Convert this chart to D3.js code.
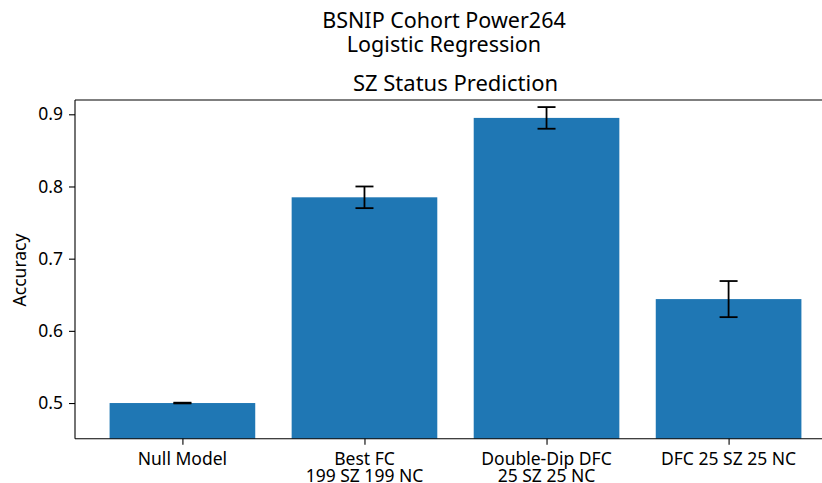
<!DOCTYPE html>
<html lang="en">
<head>
  <meta charset="UTF-8">
  <title>SZ Status Prediction</title>
  <script src="https://cdn.jsdelivr.net/npm/d3@7"></script>
</head>
<style>
  body { margin: 0; background: #fff; }
  svg { display: block; font-family: "Noto Sans", sans-serif; }
</style>
<body>
<svg width="822" height="483"></svg>
<script>
  // data
  const categories = ['Null Model', 'Best FC\n199 SZ 199 NC', 'Double-Dip DFC\n25 SZ 25 NC', 'DFC 25 SZ 25 NC'];
  const accuracy = [0.5, 0.785, 0.895, 0.644];
  const errors = [0.0005, 0.015, 0.015, 0.025];
  const yTicks = [0.5, 0.6, 0.7, 0.8, 0.9];

  const svg = d3.select('svg');
  const plotL = 75, plotR = 836, plotT = 100, plotB = 438.7;
  const barColor = '#1f77b4';
  const tickFont = '17.5px', titleFont = '22px', supFont = '21.5px';

  const x = d3.scaleLinear().domain([-0.59, categories.length - 1 + 0.59]).range([plotL, plotR]);
  const y = d3.scaleLinear().domain([0.4506, 0.9198]).range([plotB, plotT]);
  const barW = x(0.4) - x(-0.4);

  const data = categories.map((c, i) => ({c, i, v: accuracy[i], e: errors[i]}));

  // bars
  svg.append('g').selectAll('rect').data(data).enter().append('rect')
    .attr('x', d => x(d.i) - barW / 2)
    .attr('width', barW)
    .attr('y', d => y(d.v))
    .attr('height', d => plotB - y(d.v))
    .style('fill', barColor);

  // error bars
  const eg = svg.append('g').attr('stroke', '#000').attr('stroke-width', 1.8);
  data.forEach(d => {
    const cx = x(d.i);
    eg.append('line').attr('x1', cx).attr('x2', cx).attr('y1', y(d.v - d.e)).attr('y2', y(d.v + d.e));
    [d.v - d.e, d.v + d.e].forEach(v => {
      eg.append('line').attr('x1', cx - 9).attr('x2', cx + 9).attr('y1', y(v)).attr('y2', y(v));
    });
  });

  // spines
  const sp = svg.append('g').attr('stroke', '#000').attr('stroke-width', 1.1);
  sp.append('line').attr('x1', plotL).attr('x2', plotL).attr('y1', plotT).attr('y2', plotB);
  sp.append('line').attr('x1', plotL).attr('x2', plotR).attr('y1', plotB).attr('y2', plotB);
  sp.append('line').attr('x1', plotL).attr('x2', plotR).attr('y1', plotT).attr('y2', plotT);
  sp.append('line').attr('x1', plotR).attr('x2', plotR).attr('y1', plotT).attr('y2', plotB);

  // y axis
  const yAxis = d3.axisLeft(y).tickValues(yTicks).tickFormat(d3.format('.1f')).tickSize(6).tickPadding(6);
  const ya = svg.append('g').attr('transform', `translate(${plotL},0)`).call(yAxis);
  ya.select('.domain').remove();
  ya.selectAll('line').attr('stroke-width', 1.1);
  ya.selectAll('text').style('font-size', tickFont).style('font-family', 'Noto Sans').attr('fill', '#000');

  // x axis
  const xAxis = d3.axisBottom(x).tickValues(d3.range(categories.length)).tickFormat('').tickSize(6);
  const xa = svg.append('g').attr('transform', `translate(0,${plotB})`).call(xAxis);
  xa.select('.domain').remove();
  xa.selectAll('line').attr('stroke-width', 1.1);
  data.forEach(d => {
    const t = svg.append('text').attr('x', x(d.i)).attr('y', 465)
      .attr('text-anchor', 'middle').style('font-size', tickFont).attr('fill', '#000');
    d.c.split('\n').forEach((line, k) => {
      t.append('tspan').attr('x', x(d.i)).attr('dy', k === 0 ? 0 : 17).text(line);
    });
  });

  // labels and titles
  svg.append('text').attr('transform', `translate(26,270) rotate(-90)`)
    .attr('text-anchor', 'middle').style('font-size', tickFont).text('Accuracy');
  svg.append('text').attr('x', (plotL + plotR) / 2).attr('y', 90.5)
    .attr('text-anchor', 'middle').style('font-size', titleFont).text('SZ Status Prediction');
  const sup = svg.append('text').attr('x', 444).attr('y', 27.7)
    .attr('text-anchor', 'middle').style('font-size', supFont);
  sup.append('tspan').attr('x', 444).text('BSNIP Cohort Power264');
  sup.append('tspan').attr('x', 444).attr('dy', 24).text('Logistic Regression');
</script>
</body>
</html>
